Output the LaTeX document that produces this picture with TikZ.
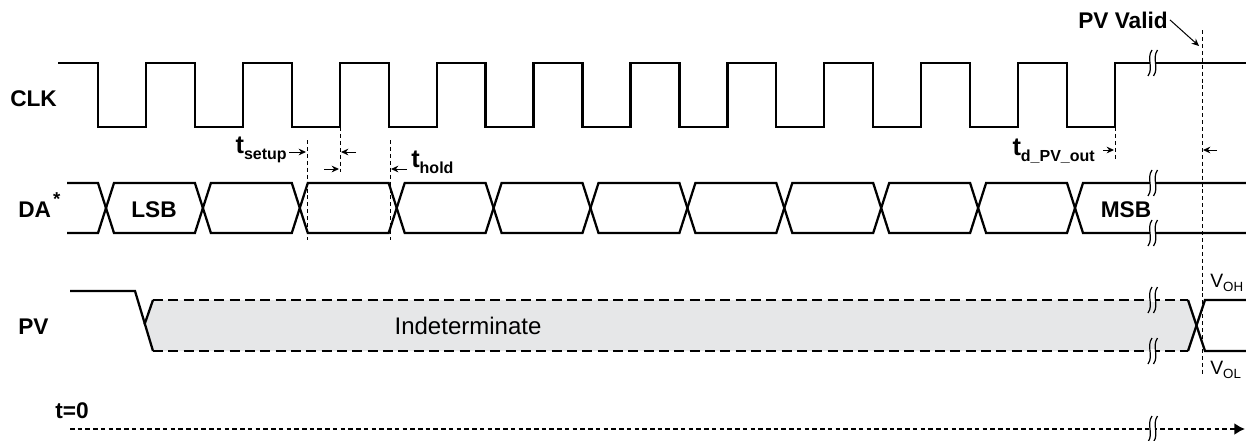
\documentclass[tikz,border=0pt]{standalone}
\usepackage{fontspec}
\setmainfont{Liberation Sans}
\usetikzlibrary{arrows.meta}

\definecolor{indet}{RGB}{230,231,232}

\tikzset{
  sig/.style={black, line width=1.7pt},
  guide/.style={black, line width=0.7pt, dash pattern=on 3pt off 2.2pt},
  pvdash/.style={black, line width=0.9pt, dash pattern=on 7.5pt off 4pt},
  axisline/.style={black, line width=1.5pt, dash pattern=on 3.4pt off 2.4pt,
    -{Latex[length=8pt,width=9pt]}},
  dim/.style={black, line width=0.75pt, -{Stealth[length=5.5pt,width=5pt]}},
  brkline/.style={black, line width=0.9pt},
  lbl/.style={font=\fontsize{17}{20}\selectfont\bfseries, inner sep=1.5pt},
  vlbl/.style={font=\fontsize{14.5}{17}\selectfont, inner sep=1.5pt}
}

% break mark: two wavy strokes with the line cut between them
\newcommand{\brkmark}[2]{%
  \fill[white] ({#1},{#2-2}) rectangle ({#1+5.5},{#2+2});
  \draw[brkline] ({#1+2},{#2-13}) .. controls ({#1-4},{#2-4}) and ({#1+4},{#2+4}) .. ({#1-2},{#2+13});
  \draw[brkline] ({#1+7.5},{#2-13}) .. controls ({#1+1.5},{#2-4}) and ({#1+9.5},{#2+4}) .. ({#1+3.5},{#2+13});
}
\newcommand{\tsub}[1]{{\fontsize{19}{22}\selectfont\bfseries t}\raisebox{-5pt}{\fontsize{12}{14}\selectfont\bfseries #1}}

\begin{document}
\begin{tikzpicture}[x=0.75pt,y=-0.75pt]
\useasboundingbox (0,0) rectangle (1246,440);

% signal names
\node[lbl, anchor=base west] (clk) at (8,106) {CLK};
\node[lbl, anchor=base west] (da) at (16,217) {DA\hspace{1.5pt}\raisebox{9pt}{\fontsize{14}{16}\selectfont *}};
\node[lbl, anchor=base west] (pv) at (16,334) {PV};
\node[lbl, anchor=base west] (t0) at (53,418) {t=0};

% clock
\draw[sig] (58,63) \foreach \k in {0,...,10} {
  -- ({98+96.9*\k},63) -- ({98+96.9*\k},127) -- ({146+96.9*\k},127) -- ({146+96.9*\k},63) } -- (1246,63);

% data bus
\draw[sig] (67,183) \foreach \k in {0,...,10} {
  -- ({98+96.9*\k},{208-25*cos(180*\k)}) -- ({114+96.9*\k},{208+25*cos(180*\k)}) } -- (1246,233);
\draw[sig] (67,233) \foreach \k in {0,...,10} {
  -- ({98+96.9*\k},{208+25*cos(180*\k)}) -- ({114+96.9*\k},{208-25*cos(180*\k)}) } -- (1246,183);
\node[lbl, anchor=base] (lsb) at (154,217) {LSB};
\node[lbl, anchor=base] (msb) at (1126,217) {MSB};

% PV output
\fill[indet] (153,300) -- (144.5,324.5) -- (153,351) -- (1188,351) -- (1196.5,325.5) -- (1188,300) -- cycle;
\draw[pvdash] (153,300) -- (1188,300);
\draw[pvdash] (153,351) -- (1188,351);
\draw[sig] (70,291) -- (135,291) -- (153,351);
\draw[sig] (153,300) -- (144.5,324.5);
\draw[sig] (1188,300) -- (1205,351) -- (1246,351);
\draw[sig] (1188,351) -- (1205,300) -- (1246,300);
\node[font=\fontsize{18}{21}\selectfont, anchor=base] (ind) at (468,334) {Indeterminate};
\node[vlbl, anchor=base west] (voh) at (1208,287) {V\raisebox{-3pt}{\fontsize{10}{12}\selectfont OH}};
\node[vlbl, anchor=base west] (vol) at (1208,374) {V\raisebox{-3pt}{\fontsize{10}{12}\selectfont OL}};

% time axis
\draw[axisline] (70,429) -- (1245,429);

% breaks
\foreach \y in {63,183,233,300,351,429} {\brkmark{1150}{\y}}

% timing guides
\draw[guide] (307,140) -- (307,240);
\draw[guide] (340,127) -- (340,172);
\draw[guide] (390,140) -- (390,240);
\draw[guide] (1115,127) -- (1115,160);
\draw[guide] (1202,30) -- (1202,375);

% setup / hold
\node[anchor=base east, inner sep=1.5pt] (tsu) at (289,153) {\tsub{setup}};
\node[anchor=base west, inner sep=1.5pt] (tho) at (409,167) {\tsub{hold}};
\coordinate (su1) at (306,152);
\coordinate (su2) at (341,152);
\coordinate (su2s) at (356,152);
\coordinate (ho1) at (339,169);
\coordinate (ho1s) at (324,169);
\coordinate (ho2) at (391,169);
\coordinate (ho2s) at (407,169);
\draw[dim] (tsu.east |- su1) -- (su1);
\draw[dim] (su2s) -- (su2);
\draw[dim] (ho1s) -- (ho1);
\draw[dim] (ho2s) -- (ho2);

% PV delay
\node[anchor=base east, inner sep=1.5pt] (tdo) at (1097,155) {\tsub{d\_PV\_out}};
\node[lbl, anchor=base] (pvvalid) at (1123,28) {PV Valid};
\coordinate (do1) at (1114,150);
\coordinate (do1s) at (1103,150);
\coordinate (do2) at (1203,150);
\coordinate (do2s) at (1217,150);
\coordinate (pvv) at (1199,46);
\draw[dim] (do1s) -- (do1);
\draw[dim] (do2s) -- (do2);
\draw[dim] (pvvalid.east) -- (pvv);

\end{tikzpicture}
\end{document}
